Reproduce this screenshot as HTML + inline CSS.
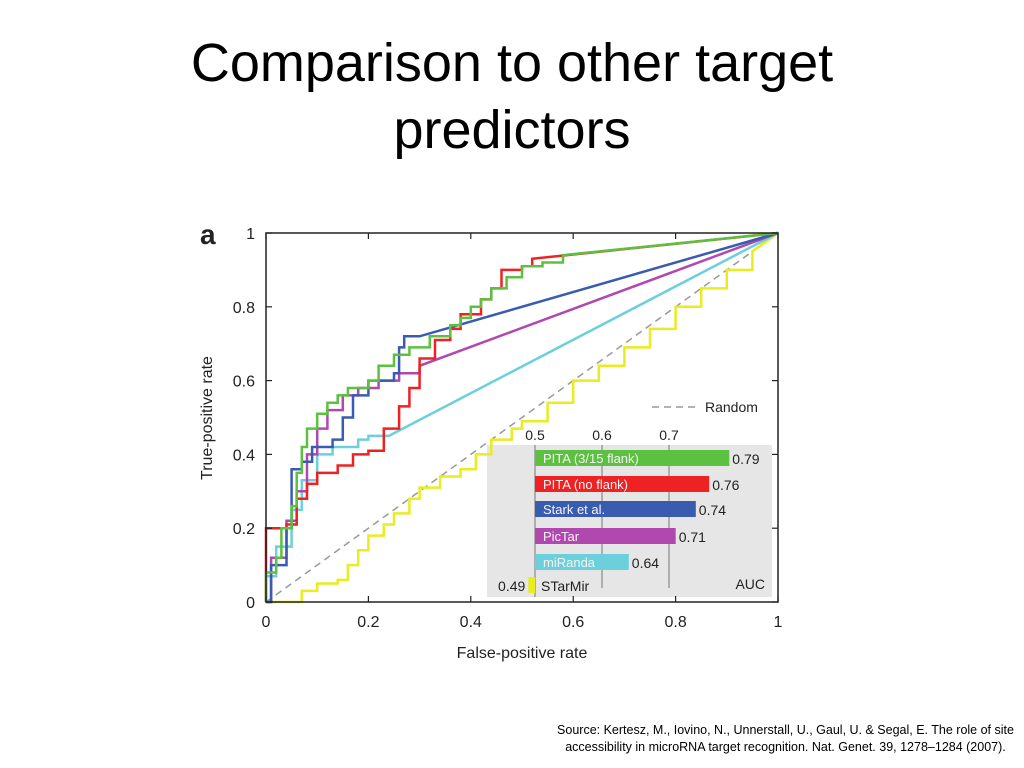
<!DOCTYPE html>
<html><head><meta charset="utf-8"><style>
body{margin:0;width:1024px;height:768px;background:#fff;overflow:hidden;font-family:"Liberation Sans",sans-serif}
#title{position:absolute;left:0;width:1024px;top:30px;text-align:center;font-size:54px;line-height:67px;color:#000}
#src{position:absolute;left:548px;width:475px;top:722px;text-align:center;font-size:12.5px;line-height:17px;color:#000}
svg text{font-family:"Liberation Sans",sans-serif}
</style></head><body>
<div id="title">Comparison to other target<br>predictors</div>
<svg id="chart" width="1024" height="768" style="position:absolute;left:0;top:0"></svg>
<div id="src">Source: Kertesz, M., Iovino, N., Unnerstall, U., Gaul, U. &amp; Segal, E. The role of site accessibility in microRNA target recognition. Nat. Genet. 39, 1278–1284 (2007).</div>
<script>
const xTicks=[0,0.2,0.4,0.6,0.8,1];
const yTicks=[0,0.2,0.4,0.6,0.8,1];
const xTickLabels=["0","0.2","0.4","0.6","0.8","1"];
const yTickLabels=["0","0.2","0.4","0.6","0.8","1"];
const seriesNames=["PITA (3/15 flank)","PITA (no flank)","Stark et al.","PicTar","miRanda","STarMir"];
const seriesColors=["#5cc040","#ee2222","#3a5cb0","#b048b0","#6cd0dc","#e8ec20"];
const aucValues=[0.79,0.76,0.74,0.71,0.64,0.49];
const aucTicks=[0.5,0.6,0.7];
const greenPts=[[0,0],[0,0.08],[0.02,0.12],[0.03,0.2],[0.05,0.26],[0.06,0.35],[0.07,0.42],[0.08,0.47],[0.1,0.51],[0.12,0.54],[0.14,0.56],[0.16,0.58],[0.2,0.6],[0.22,0.64],[0.25,0.67],[0.28,0.69],[0.32,0.72],[0.36,0.75],[0.38,0.77],[0.4,0.8],[0.42,0.82],[0.44,0.85],[0.47,0.88],[0.5,0.91],[0.54,0.92],[0.58,0.94],[1,1]];
const redPts=[[0,0],[0,0.2],[0.04,0.21],[0.06,0.28],[0.08,0.32],[0.1,0.35],[0.14,0.37],[0.17,0.4],[0.2,0.41],[0.23,0.47],[0.26,0.53],[0.28,0.58],[0.3,0.66],[0.33,0.71],[0.36,0.74],[0.38,0.78],[0.42,0.82],[0.44,0.85],[0.46,0.9],[0.5,0.91],[0.52,0.93],[1,1]];
const bluePts=[[0,0],[0.01,0.1],[0.04,0.2],[0.05,0.36],[0.07,0.38],[0.09,0.42],[0.13,0.44],[0.15,0.5],[0.17,0.56],[0.2,0.6],[0.25,0.62],[0.26,0.69],[0.27,0.72],[0.3,0.72],[1,1]];
const purplePts=[[0,0],[0.01,0.12],[0.04,0.22],[0.06,0.3],[0.08,0.4],[0.1,0.47],[0.12,0.52],[0.15,0.56],[0.18,0.58],[0.22,0.6],[0.26,0.62],[0.3,0.64],[1,1]];
const cyanPts=[[0,0.07],[0.02,0.15],[0.05,0.25],[0.07,0.33],[0.1,0.4],[0.13,0.42],[0.18,0.44],[0.2,0.45],[0.24,0.45],[1,1]];
const yellowPts=[[0,0],[0.06,0],[0.07,0.03],[0.1,0.05],[0.14,0.06],[0.16,0.1],[0.18,0.14],[0.2,0.18],[0.23,0.21],[0.25,0.24],[0.28,0.28],[0.3,0.31],[0.34,0.34],[0.38,0.36],[0.41,0.4],[0.44,0.44],[0.48,0.47],[0.5,0.49],[0.55,0.54],[0.6,0.6],[0.65,0.64],[0.7,0.69],[0.75,0.74],[0.8,0.8],[0.85,0.85],[0.9,0.9],[0.95,0.95],[1,1]];

const NS="http://www.w3.org/2000/svg";
const svg=document.getElementById('chart');
const X0=266,X1=778,Y0=602,Y1=233;
const sx=v=>X0+v*(X1-X0), sy=v=>Y0-v*(Y0-Y1);
const ax0=535,axPer=670; const ax=v=>ax0+(v-0.5)*axPer;
function mk(t,a,parent){const e=document.createElementNS(NS,t);for(const k in a)e.setAttribute(k,a[k]);(parent||svg).appendChild(e);return e;}
function txt(x,y,s,size,anchor,fill,extra){const e=mk('text',Object.assign({x:x,y:y,'font-size':size,'text-anchor':anchor||'start',fill:fill||'#222'},extra||{}));e.textContent=s;return e;}

let e=txt(200,244,"a",28,'start','#222',{'font-weight':'bold'});



e=mk('rect',{x:487,y:445,width:285,height:152,fill:'#e6e6e6'});



e=mk('line',{x1:sx(0),y1:sy(0),x2:sx(1),y2:sy(1),stroke:'#999','stroke-width':1.5,'stroke-dasharray':'7,5'});



const allPts=[greenPts,redPts,bluePts,purplePts,cyanPts,yellowPts];
const curveNames=["curve-pita-3-15","curve-pita-no-flank","curve-stark","curve-pictar","curve-miranda","curve-starmir"];
function stepPath(arr,step){
  let s=[];
  for(let k=0;k<arr.length;k++){
    const p=arr[k];
    if(k>0&&step&&k<arr.length-1){const q=arr[k-1];s.push(sx(p[0]).toFixed(1)+','+sy(q[1]).toFixed(1));}
    s.push(sx(p[0]).toFixed(1)+','+sy(p[1]).toFixed(1));
  }
  return s.join(' ');
}
[5,4,3,2,1,0].forEach(i=>{
  const c=mk('polyline',{points:stepPath(allPts[i],true),fill:'none',stroke:seriesColors[i],'stroke-width':2.5,'stroke-linejoin':'miter'});
  
  
});

e=mk('rect',{x:X0,y:Y1,width:X1-X0,height:Y0-Y1,fill:'none',stroke:'#222','stroke-width':1.5});


xTicks.forEach((v,i)=>{
  mk('line',{x1:sx(v),y1:Y0,x2:sx(v),y2:Y0-6,stroke:'#222','stroke-width':1.2});
  mk('line',{x1:sx(v),y1:Y1,x2:sx(v),y2:Y1+6,stroke:'#222','stroke-width':1.2});
  const t=txt(sx(v),627,xTickLabels[i],16,'middle');
  
  
});
yTicks.forEach((v,i)=>{
  mk('line',{x1:X0,y1:sy(v),x2:X0+6,y2:sy(v),stroke:'#222','stroke-width':1.2});
  mk('line',{x1:X1,y1:sy(v),x2:X1-6,y2:sy(v),stroke:'#222','stroke-width':1.2});
  const t=txt(255,sy(v)+6,yTickLabels[i],16,'end');
  
  
});
e=txt(522,658,"False-positive rate",16,'middle');


e=txt(0,0,"True-positive rate",16,'middle','#222',{transform:'translate(212,418) rotate(-90)'});



e=mk('line',{x1:652,y1:407,x2:700,y2:407,stroke:'#999','stroke-width':1.5,'stroke-dasharray':'7,5'});


e=txt(705,412,"Random",14);



aucTicks.forEach(v=>{
  mk('line',{x1:ax(v),y1:445,x2:ax(v),y2:v===0.5?597:588,stroke:'#888','stroke-width':1.2});
  const t=txt(ax(v),440,v.toFixed(1),14,'middle');
  
  
});
const rowY=[458,484,509,536,562,585];
aucValues.forEach((v,i)=>{
  const y=rowY[i];
  const x=Math.min(ax(v),ax(0.5)), w=Math.abs(ax(v)-ax(0.5));
  const b=mk('rect',{x:x,y:y-8,width:Math.max(w,4),height:16,fill:seriesColors[i]});
  
  
  if(v>=0.5){
    const n=txt(ax(0.5)+8,y+5,seriesNames[i],13,'start','#f4f4f4');
    
    
    const lv=txt(ax(v)+3,y+6,v.toFixed(2),14,'start');
    
    
  } else {
    const n=txt(ax(0.5)+6,y+6,seriesNames[i],14,'start','#222');
    
    
    const lv=txt(x-3,y+6,v.toFixed(2),14,'end');
    
    
  }
});
e=txt(765,589,"AUC",14,'end');


</script>
</body></html>
